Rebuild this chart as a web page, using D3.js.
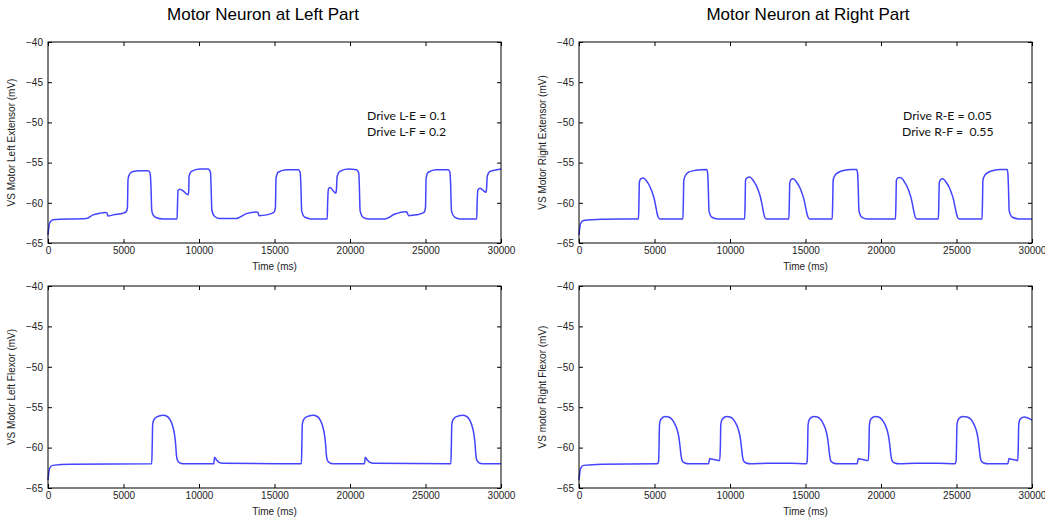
<!DOCTYPE html>
<html><head><meta charset="utf-8">
<script src="https://cdn.jsdelivr.net/npm/d3@7"></script>
<style>body{margin:0;background:#fff}svg{display:block}</style>
</head><body>
<svg id="chart" width="1045" height="521"></svg>
<script>
// ---- data ----
const xTicks = [0, 5000, 10000, 15000, 20000, 25000, 30000];
const yTicks = [-65, -60, -55, -50, -45, -40];
const panelTitles = ["Motor Neuron at Left Part", "Motor Neuron at Right Part"];
const yLabels = ["VS Motor Left Extensor (mV)", "VS Motor Right Extensor (mV)", "VS Motor Left Flexor (mV)", "VS motor Right Flexor (mV)"];
const xLabel = "Time (ms)";
const notesLeft = ["Drive L-E = 0.1", "Drive L-F = 0.2"];
const notesRight = ["Drive R-E = 0.05", "Drive R-F =  0.55"];

const leftExtensor = [
[0,-64],[110,-62.5],[330,-62.1],[2540,-61.95],[2980,-61.5],[3420,-61.3],[3820,-61.2],[3900,-61.25],[3980,-61.65],[4310,-61.5],[4970,-61.3],[5180,-61.1],[5260,-60.6],[5300,-57.1],[5410,-56.4],[5630,-56.1],[6070,-56.0],[6630,-56.0],[6760,-56.3],[6820,-58],[6870,-60.9],[6960,-61.5],[7180,-61.85],[7620,-62.0],[8550,-62.0],[8580,-60],[8610,-58.5],[8730,-58.3],[9000,-58.6],[9280,-59.0],[9320,-58.5],[9340,-56.7],[9500,-56.1],[10050,-55.8],[10600,-55.8],[10760,-56.2],[10800,-58],[10850,-60.9],[11040,-61.7],[11380,-61.95],[12480,-61.95],
[13140,-61.35],[13810,-61.15],[13900,-61.2],[13980,-61.6],[14470,-61.5],[14950,-61.2],[15060,-60.6],[15100,-57.0],[15240,-56.2],[15790,-55.9],[16570,-55.9],[16700,-56.2],[16750,-58],[16800,-61.0],[17010,-61.8],[17450,-62.0],[18490,-62.0],[18520,-60],[18570,-58.3],[18670,-58.1],[19060,-58.8],[19100,-58.4],[19150,-56.7],[19330,-56.1],[19880,-55.8],[20430,-55.9],[20580,-56.3],[20620,-58],[20670,-61.0],[20870,-61.8],[21210,-62.0],[22310,-62.0],
[22970,-61.4],[23640,-61.1],[23760,-61.15],[23880,-61.6],[24410,-61.5],[24900,-61.2],[25000,-60.6],[25040,-57.0],[25180,-56.2],[25730,-55.9],[26510,-55.9],[26620,-56.2],[26670,-58],[26720,-61.0],[26950,-61.8],[27280,-62.0],[28390,-62.0],[28420,-60],[28470,-58.4],[28610,-58.2],[29000,-58.7],[29040,-58.3],[29090,-56.7],[29270,-56.1],[29710,-55.9],[30000,-55.8]
];

const rightExtensor = [
[0,-64],[100,-62.6],[300,-62.2],[1500,-62.05],[3940,-62.0],[3970,-60],[4000,-57.4],[4100,-57.0],[4250,-56.9],[4400,-57.1],[4550,-57.5],[4700,-58.0],[4850,-58.7],[4980,-59.5],[5080,-60.4],[5170,-61.3],[5250,-61.8],[5350,-62.0],
[6880,-62.0],[6910,-60],[6940,-57.2],[7050,-56.6],[7240,-56.2],[7600,-56.0],[8000,-55.9],[8450,-55.85],[8520,-56.3],[8560,-58],[8610,-61.0],[8800,-61.8],[9200,-62.0],
[10970,-62.0],[11000,-60],[11030,-57.2],[11120,-56.9],[11300,-56.8],[11450,-57.0],[11600,-57.4],[11750,-57.9],[11900,-58.6],[12030,-59.4],[12130,-60.3],[12220,-61.2],[12300,-61.8],[12400,-62.0],
[13900,-62.0],[13930,-60],[13960,-57.5],[14050,-57.1],[14170,-57.0],[14320,-57.2],[14470,-57.6],[14620,-58.1],[14770,-58.8],[14900,-59.6],[15000,-60.5],[15090,-61.3],[15170,-61.8],[15270,-62.0],
[16770,-62.0],[16800,-60],[16830,-57.2],[16950,-56.6],[17200,-56.2],[17600,-55.95],[18000,-55.85],[18380,-55.85],[18450,-56.3],[18490,-58],[18540,-61.0],[18740,-61.8],[19100,-62.0],
[20960,-62.0],[20990,-60],[21020,-57.2],[21110,-56.9],[21270,-56.85],[21420,-57.05],[21570,-57.45],[21720,-57.95],[21870,-58.65],[22000,-59.45],[22100,-60.35],[22190,-61.2],[22270,-61.8],[22370,-62.0],
[23800,-62.0],[23830,-60],[23860,-57.5],[23950,-57.1],[24070,-57.0],[24220,-57.2],[24370,-57.6],[24520,-58.1],[24670,-58.8],[24800,-59.6],[24900,-60.5],[24990,-61.3],[25070,-61.8],[25170,-62.0],
[26690,-62.0],[26720,-60],[26750,-57.2],[26870,-56.6],[27120,-56.2],[27500,-55.95],[27900,-55.85],[28350,-55.85],[28400,-56.3],[28440,-58],[28490,-61.0],[28700,-61.8],[29100,-62.0],[30000,-62.0]
];

const leftFlexor = [
[0,-64],[100,-62.6],[300,-62.2],[1500,-62.05],[6870,-62.0],[6900,-60],[6930,-57.2],[7000,-56.6],[7200,-56.2],[7620,-56.0],[7900,-56.15],[8100,-56.6],[8250,-57.3],[8380,-58.4],[8450,-59.5],[8500,-60.8],[8560,-61.5],[8700,-61.85],[8950,-62.0],
[10980,-62.0],[11030,-61.2],[11150,-61.5],[11300,-61.8],[11600,-61.95],
[16780,-62.0],[16810,-60],[16840,-57.2],[16910,-56.6],[17110,-56.2],[17550,-56.0],[17830,-56.15],[18030,-56.6],[18180,-57.3],[18310,-58.4],[18380,-59.5],[18430,-60.8],[18490,-61.5],[18630,-61.85],[18880,-62.0],
[20960,-62.0],[21010,-61.2],[21130,-61.5],[21280,-61.8],[21580,-61.95],
[26680,-62.0],[26710,-60],[26740,-57.2],[26810,-56.6],[27010,-56.2],[27450,-56.0],[27730,-56.15],[27930,-56.6],[28080,-57.3],[28210,-58.4],[28280,-59.5],[28330,-60.8],[28390,-61.5],[28530,-61.85],[28780,-62.0],[30000,-62.0]
];

const rightFlexor = [
[0,-64],[100,-62.6],[300,-62.2],[1500,-62.05],[5200,-62.0],[5270,-61.7],[5300,-60],[5330,-57.2],[5420,-56.5],[5700,-56.15],[5950,-56.2],[6150,-56.5],[6350,-57.1],[6500,-57.8],[6620,-58.8],[6700,-60.0],[6760,-61.0],[6830,-61.6],[7000,-61.9],[7300,-62.0],
[8580,-62.0],[8660,-61.35],[8750,-61.4],[9000,-61.5],[9320,-61.6],[9360,-60],[9390,-57.2],[9480,-56.5],[9760,-56.15],[10010,-56.2],[10210,-56.5],[10410,-57.1],[10560,-57.8],[10680,-58.8],[10760,-60.0],[10820,-61.0],[10890,-61.6],[11060,-61.9],[11360,-62.0],[12400,-61.95],[14000,-61.95],
[15050,-62.0],[15110,-61.7],[15140,-60],[15170,-57.2],[15260,-56.5],[15540,-56.15],[15790,-56.2],[15990,-56.5],[16190,-57.1],[16340,-57.8],[16460,-58.8],[16540,-60.0],[16600,-61.0],[16670,-61.6],[16840,-61.9],[17140,-62.0],
[18420,-62.0],[18500,-61.35],[18590,-61.4],[18840,-61.5],[19160,-61.6],[19200,-60],[19230,-57.2],[19320,-56.5],[19600,-56.15],[19850,-56.2],[20050,-56.5],[20250,-57.1],[20400,-57.8],[20520,-58.8],[20600,-60.0],[20660,-61.0],[20730,-61.6],[20900,-61.9],[21200,-62.0],[22300,-61.95],[23800,-61.95],
[24900,-62.0],[24970,-61.7],[25000,-60],[25030,-57.2],[25120,-56.5],[25400,-56.15],[25700,-56.2],[25950,-56.5],[26150,-57.1],[26300,-57.8],[26420,-58.8],[26500,-60.0],[26560,-61.0],[26630,-61.6],[26800,-61.9],[27100,-62.0],
[28400,-62.0],[28480,-61.35],[28570,-61.4],[28820,-61.5],[29060,-61.6],[29090,-60],[29120,-57.2],[29210,-56.5],[29470,-56.2],[29700,-56.3],[30000,-56.6]
];

// ---- drawing ----
const svg = d3.select("#chart");
const tickFont = "'Liberation Sans', Arial, sans-serif";
const noteFont = "Lato, sans-serif";

const panels = [
  {series: leftExtensor,  ylab: yLabels[0], x0: 48,  x1: 501,  y0: 42,  y1: 243, notes: notesLeft,  nx: [367, 367]},
  {series: rightExtensor, ylab: yLabels[1], x0: 579, x1: 1032, y0: 42,  y1: 243, notes: notesRight, nx: [903, 902]},
  {series: leftFlexor,    ylab: yLabels[2], x0: 48,  x1: 501,  y0: 286, y1: 488},
  {series: rightFlexor,   ylab: yLabels[3], x0: 579, x1: 1032, y0: 286, y1: 488}
];

panels.forEach(p => {
  const x = d3.scaleLinear().domain([0, 30000]).range([p.x0, p.x1]);
  const y = d3.scaleLinear().domain([-65, -40]).range([p.y1, p.y0]);
  const g = svg.append("g");

  const styleAxis = (sel, labels) => {
    sel.select(".domain").remove();
    sel.selectAll(".tick line").attr("stroke", "#000").attr("stroke-width", 1);
    sel.selectAll("text").attr("font-family", tickFont).attr("font-size", 10).attr("fill", "#222");
    if (!labels) sel.selectAll("text").remove();
  };

  g.append("g").attr("transform", `translate(0,${p.y1})`)
    .call(d3.axisBottom(x).tickValues(xTicks).tickFormat(d3.format("d")).tickSize(-4).tickPadding(4))
    .call(s => styleAxis(s, true));
  g.append("g").attr("transform", `translate(0,${p.y0})`)
    .call(d3.axisTop(x).tickValues(xTicks).tickSize(-4))
    .call(s => styleAxis(s, false));
  g.append("g").attr("transform", `translate(${p.x0},0)`)
    .call(d3.axisLeft(y).tickValues(yTicks).tickFormat(d3.format("d")).tickSize(-4).tickPadding(5))
    .call(s => styleAxis(s, true));
  g.append("g").attr("transform", `translate(${p.x1},0)`)
    .call(d3.axisRight(y).tickValues(yTicks).tickSize(-4))
    .call(s => styleAxis(s, false));

  g.append("path")
    .datum(p.series)
    .attr("fill", "none")
    .attr("stroke", "#4444ff")
    .attr("stroke-width", 1.5)
    .attr("d", d3.line().x(d => x(d[0])).y(d => y(d[1])).curve(d3.curveMonotoneX));

  g.append("rect")
    .attr("x", p.x0).attr("y", p.y0)
    .attr("width", p.x1 - p.x0).attr("height", p.y1 - p.y0)
    .attr("fill", "none").attr("stroke", "#000").attr("stroke-width", 1);

  g.append("text")
    .attr("transform", `translate(${p.x0 - 33},${(p.y0 + p.y1) / 2}) rotate(-90)`)
    .attr("text-anchor", "middle")
    .attr("font-family", tickFont).attr("font-size", 10).attr("fill", "#222")
    .text(p.ylab);

  g.append("text")
    .attr("x", (p.x0 + p.x1) / 2).attr("y", p.y1 + 27)
    .attr("text-anchor", "middle")
    .attr("font-family", tickFont).attr("font-size", 10).attr("fill", "#222")
    .text(xLabel);

  if (p.notes) {
    p.notes.forEach((t, i) => {
      g.append("text")
        .attr("x", p.nx[i]).attr("y", 120 + i * 15.5)
        .attr("font-family", noteFont).attr("font-size", 12.2).attr("fill", "#111")
        .style("white-space", "pre")
        .text(t);
    });
  }
});

svg.append("text").attr("x", 263).attr("y", 20).attr("text-anchor", "middle")
  .attr("font-family", tickFont).attr("font-size", 17).attr("fill", "#000").text(panelTitles[0]);
svg.append("text").attr("x", 808).attr("y", 20).attr("text-anchor", "middle")
  .attr("font-family", tickFont).attr("font-size", 17).attr("fill", "#000").text(panelTitles[1]);
</script>
</body></html>
